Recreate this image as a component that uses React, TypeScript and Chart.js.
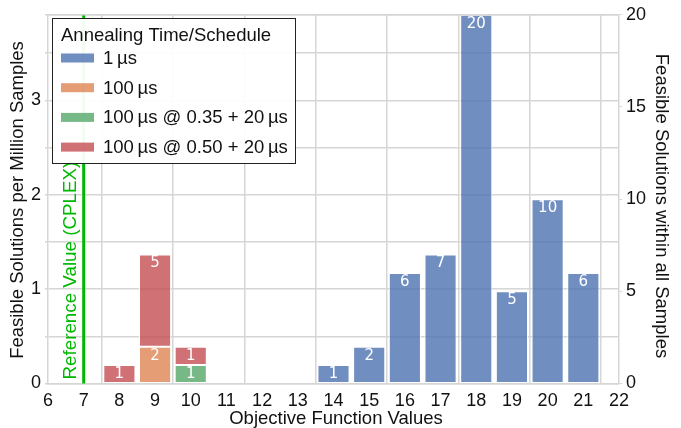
import React, { useEffect, useRef } from "react";
import { Chart, registerables } from "chart.js";

Chart.register(...registerables);

// ---- data (counts of feasible solutions) ----
const blueX = [14, 15, 16, 17, 18, 19, 20, 21];
const blueCounts = [1, 2, 6, 7, 20, 5, 10, 6];
const orangeX = [9];
const orangeCounts = [2];
const greenX = [10];
const greenCounts = [1];
const redX = [8, 9, 10];
const redCounts = [1, 5, 1];

const seriesNames = [
  "1\u2009µs",
  "100\u2009µs",
  "100\u2009µs @ 0.35 + 20\u2009µs",
  "100\u2009µs @ 0.50 + 20\u2009µs",
];
const legendTitle = "Annealing Time/Schedule";
const referenceX = 7;
const referenceLabel = "Reference Value (CPLEX)";
const xTitle = "Objective Function Values";
const yLeftTitle = "Feasible Solutions per Million Samples";
const yRightTitle = "Feasible Solutions within all Samples";
const xMin = 6;
const xMax = 22;
const rightMax = 20;
const leftMax = 3.906; // per-million value matching 20 counts

const colors = [
  "rgba(76,114,176,0.8)",
  "rgba(221,132,82,0.8)",
  "rgba(85,168,104,0.8)",
  "rgba(196,78,82,0.8)",
];
const GREEN = "#00b800";
const FONT = "'Liberation Sans', Arial, sans-serif";
const FS = 18.5;
const GRID = "#d6d6d6";

const toPts = (xs: number[], ys: number[]) => xs.map((x, i) => ({ x, y: ys[i] }));

export default function App() {
  const ref = useRef<HTMLCanvasElement | null>(null);
  useEffect(() => {
    document.body.style.margin = "0";
    const canvas = ref.current!;
    const overlay = {
      id: "overlay",
      beforeDatasetsDraw(chart: any) {
        const { ctx, chartArea, scales } = chart;
        const xp = scales.x.getPixelForValue(referenceX);
        ctx.save();
        ctx.strokeStyle = GREEN;
        ctx.lineWidth = 3;
        ctx.beginPath();
        ctx.moveTo(xp, chartArea.top);
        ctx.lineTo(xp, chartArea.bottom);
        ctx.stroke();
        ctx.restore();
      },
      afterDatasetsDraw(chart: any) {
        const { ctx, chartArea, scales } = chart;
        // bar labels
        ctx.save();
        ctx.fillStyle = "#ffffff";
        ctx.font = "15px 'DejaVu Sans', sans-serif";
        ctx.textAlign = "center";
        ctx.textBaseline = "middle";
        chart.data.datasets.forEach((ds: any, di: number) => {
          const meta = chart.getDatasetMeta(di);
          meta.data.forEach((el: any, i: number) => {
            ctx.fillText(String(ds.data[i].y), el.x, el.y + 9);
          });
        });
        ctx.restore();

        // reference text
        const xp = scales.x.getPixelForValue(referenceX);
        ctx.save();
        ctx.translate(xp - 13, chartArea.bottom - 4);
        ctx.rotate(-Math.PI / 2);
        ctx.fillStyle = GREEN;
        ctx.font = `18.8px ${FONT}`;
        ctx.textAlign = "left";
        ctx.textBaseline = "middle";
        ctx.fillText(referenceLabel, 0, 0);
        ctx.restore();

        // top frame
        ctx.save();
        ctx.strokeStyle = GRID;
        ctx.lineWidth = 1.5;
        ctx.beginPath();
        ctx.moveTo(chartArea.left, chartArea.top);
        ctx.lineTo(chartArea.right, chartArea.top);
        ctx.stroke();
        ctx.restore();

        // legend
        ctx.save();
        const lx = 52, ly = 18, lw = 243, lh = 145;
        ctx.fillStyle = "rgba(255,255,255,0.95)";
        ctx.fillRect(lx, ly, lw, lh);
        ctx.strokeStyle = "#222";
        ctx.lineWidth = 1;
        ctx.strokeRect(lx + 0.5, ly + 0.5, lw, lh);
        ctx.fillStyle = "#111";
        ctx.font = `${FS}px ${FONT}`;
        ctx.textAlign = "left";
        ctx.textBaseline = "alphabetic";
        ctx.fillText(legendTitle, 61, 41);
        seriesNames.forEach((name, i) => {
          const cy = 58 + i * 29.7;
          ctx.fillStyle = colors[i];
          ctx.fillRect(61, cy - 4.5, 33, 9);
          ctx.fillStyle = "#111";
          ctx.textBaseline = "middle";
          ctx.fillText(name, 103, cy + 1);
        });
        ctx.restore();

        // axis titles
        ctx.save();
        ctx.fillStyle = "#111";
        ctx.font = `${FS}px ${FONT}`;
        ctx.textAlign = "center";
        ctx.textBaseline = "middle";
        ctx.fillText(xTitle, 336, 419);
        ctx.save();
        ctx.translate(18, 200);
        ctx.rotate(-Math.PI / 2);
        ctx.fillText(yLeftTitle, 0, 0);
        ctx.restore();
        ctx.save();
        ctx.translate(661, 206);
        ctx.rotate(Math.PI / 2);
        ctx.fillText(yRightTitle, 0, 0);
        ctx.restore();
        ctx.restore();
      },
    };

    const mk = (label: string, xs: number[], ys: number[], c: string) => ({
      label,
      data: toPts(xs, ys),
      backgroundColor: c,
      borderColor: "rgba(255,255,255,0.9)",
      borderWidth: 1,
      borderSkipped: false,
      yAxisID: "y1",
      barPercentage: 0.9,
      categoryPercentage: 1,
    });

    const tickFont = { family: FONT, size: 18 };

    const chart = new Chart(canvas, {
      type: "bar",
      data: {
        datasets: [
          mk(seriesNames[0], blueX, blueCounts, colors[0]),
          mk(seriesNames[1], orangeX, orangeCounts, colors[1]),
          mk(seriesNames[2], greenX, greenCounts, colors[2]),
          mk(seriesNames[3], redX, redCounts, colors[3]),
        ] as any,
      },
      options: {
        animation: false,
        responsive: false,
        maintainAspectRatio: false,
        layout: { padding: { top: 14, left: 0, right: 0, bottom: 0 } },
        plugins: { legend: { display: false }, tooltip: { enabled: false } },
        scales: {
          x: {
            type: "linear",
            min: xMin,
            max: xMax,
            stacked: true,
            offset: false,
            grid: {
              color: (c: any) => (c.tick && c.tick.value % 2 === 0 ? GRID : "rgba(0,0,0,0)"),
              lineWidth: 1.5,
              drawTicks: false,
            },
            border: { color: GRID, width: 1.5 },
            ticks: {
              stepSize: 1,
              color: "#111",
              font: tickFont,
              padding: 7,
              maxRotation: 0,
              autoSkip: false,
            },
            afterFit: (s: any) => {
              s.height = 44.5;
            },
          },
          y: {
            type: "linear",
            position: "left",
            min: 0,
            max: leftMax,
            grid: { color: GRID, lineWidth: 1.5, tickLength: 3, tickColor: GRID },
            border: { color: GRID, width: 1.5 },
            ticks: {
              stepSize: 0.5,
              color: "#111",
              font: tickFont,
              padding: 4,
              callback: (v: any) => (Number.isInteger(v) ? String(v) : ""),
            },
            afterFit: (s: any) => {
              s.width = 48;
            },
          },
          y1: {
            type: "linear",
            position: "right",
            min: 0,
            max: rightMax,
            stacked: true,
            grid: { drawOnChartArea: false, tickLength: 3, tickColor: GRID },
            border: { color: GRID, width: 1.5 },
            ticks: {
              stepSize: 5,
              color: "#111",
              font: tickFont,
              padding: 4,
            },
            afterFit: (s: any) => {
              s.width = 62;
            },
          },
        },
      } as any,
      plugins: [overlay],
    });
    return () => chart.destroy();
  }, []);
  return (
    <div style={{ position: "fixed", left: 0, top: 0, width: 681, height: 428, background: "#fff" }}>
      <canvas ref={ref} width={681} height={428} style={{ width: 681, height: 428 }} />
    </div>
  );
}
